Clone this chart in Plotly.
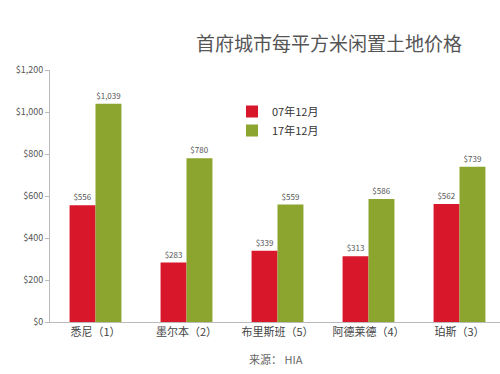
import plotly.graph_objects as go

categories = ["悉尼（1）", "墨尔本（2）", "布里斯班（5）", "阿德莱德（4）", "珀斯（3）"]
values_07 = [556, 283, 339, 313, 562]
values_17 = [1039, 780, 559, 586, 739]
series_names = ["07年12月", "17年12月"]
tick_vals = [0, 200, 400, 600, 800, 1000, 1200]
tick_text = ["$0", "$200", "$400", "$600", "$800", "$1,000", "$1,200"]

font_family = "Noto Sans CJK SC, Liberation Sans, sans-serif"

W, H = 500, 374
l, r, t, b = 50, 0, 70, 52
pw, ph = W - l - r, H - t - b


def px_to_paper(px, py):
    return (px - l) / pw, (H - b - py) / ph


fig = go.Figure()
fig.add_trace(go.Bar(
    x=categories, y=values_07, name=series_names[0],
    marker=dict(color="#d9172b", line=dict(width=0)),
    text=["$" + format(v, ",") for v in values_07], textposition="outside",
    textfont=dict(size=8, color="#555555"), cliponaxis=False,
))
fig.add_trace(go.Bar(
    x=categories, y=values_17, name=series_names[1],
    marker=dict(color="#8ba52f", line=dict(width=0)),
    text=["$" + format(v, ",") for v in values_17], textposition="outside",
    textfont=dict(size=8, color="#555555"), cliponaxis=False,
))

lx, ly = px_to_paper(232, 97)
fig.update_layout(
    width=W, height=H,
    margin=dict(l=l, r=r, t=t, b=b),
    paper_bgcolor="white", plot_bgcolor="white",
    barmode="group", bargap=0.43, bargroupgap=0,
    font=dict(family=font_family, color="#444444"),
    showlegend=True,
    legend=dict(x=lx, y=ly, xanchor="left", yanchor="top",
                font=dict(size=11, color="#333333"), bgcolor="rgba(0,0,0,0)",
                itemwidth=30, tracegroupgap=0),
)

tx, ty = px_to_paper(329, 43)
fig.add_annotation(text="首府城市每平方米闲置土地价格", x=tx, y=ty, xref="paper", yref="paper",
                   showarrow=False, xanchor="center", yanchor="middle",
                   font=dict(size=19, color="#555555"))
sx, sy = px_to_paper(276, 359)
fig.add_annotation(text="来源： HIA", x=sx, y=sy, xref="paper", yref="paper",
                   showarrow=False, xanchor="center", yanchor="middle",
                   font=dict(size=11, color="#666666"))

fig.update_xaxes(
    range=[-0.5, 4.445], showline=True, linecolor="#bbbbbb", linewidth=1,
    ticks="", showgrid=False, tickfont=dict(size=11, color="#444444"),
)
fig.update_yaxes(
    range=[0, 1200], tickvals=tick_vals, ticktext=tick_text,
    showline=True, linecolor="#bbbbbb", linewidth=1, ticks="outside",
    ticklen=4, tickcolor="#bbbbbb", showgrid=False, zeroline=False,
    tickfont=dict(size=9, color="#555555"),
)

fig.write_html("out.html", config={"displayModeBar": False},
               post_script="document.body.style.margin='0';")
